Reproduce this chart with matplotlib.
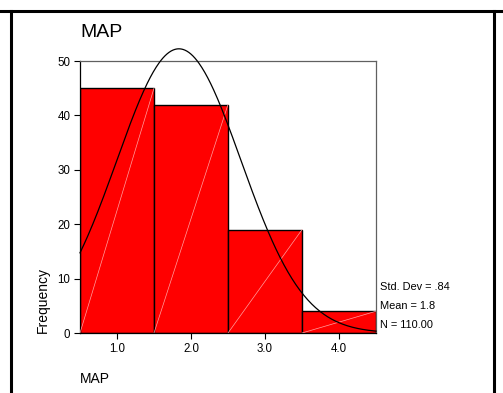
import numpy as np
import matplotlib
matplotlib.use("Agg")
import matplotlib.pyplot as plt
from matplotlib.lines import Line2D

plt.rcParams['font.family'] = ['Liberation Sans', 'DejaVu Sans']

# Data
categories = [1.0, 2.0, 3.0, 4.0]
frequencies = [45, 42, 19, 4]
tick_labels = ["1.0", "2.0", "3.0", "4.0"]
y_ticks = [0, 10, 20, 30, 40, 50]
std_dev = 0.84
mean = 1.8
n_total = 110.00

W, H = 503, 393
fig = plt.figure(figsize=(W / 100, H / 100), dpi=100)

# axes position in pixels: left 80, right 376, top 61, bottom 333
l, r, t, b = 80, 376, 61, 333
ax = fig.add_axes([l / W, 1 - b / H, (r - l) / W, (b - t) / H])

ax.bar(categories, frequencies, width=1.0, color='#ff0000', edgecolor='black', linewidth=1.0, zorder=2)
# faint diagonal lines inside the bars
for c, f in zip(categories, frequencies):
    ax.plot([c - 0.5, c + 0.5], [0, f], color='#ffa0a0', linewidth=0.5, zorder=3)

# fitted normal curve (computed from the stats)
mu = np.average(categories, weights=frequencies)
xs = np.linspace(0.5, 4.5, 300)
ys = n_total * 1.0 / (std_dev * np.sqrt(2 * np.pi)) * np.exp(-0.5 * ((xs - mu) / std_dev) ** 2)
ax.plot(xs, ys, color='black', linewidth=0.9, zorder=4, clip_on=False)

ax.set_xlim(0.5, 4.5)
ax.set_ylim(0, 50)
ax.set_xticks(categories)
ax.set_xticklabels(tick_labels, fontsize=8.3)
ax.set_yticks(y_ticks)
ax.set_yticklabels([str(v) for v in y_ticks], fontsize=8.3)
ax.tick_params(direction='out', length=4, width=0.8, pad=3)
for s in ['top', 'right']:
    ax.spines[s].set_color('#606060')
    ax.spines[s].set_linewidth(0.9)
for s in ['left', 'bottom']:
    ax.spines[s].set_color('black')
    ax.spines[s].set_linewidth(0.9)

fig.text(43 / W, 1 - 333 / H, "Frequency", fontsize=10, rotation=90, ha='center', va='bottom')

fig.text(80 / W, 1 - 37 / H, "MAP", fontsize=14, ha='left', va='baseline')
fig.text(80 / W, 1 - 383 / H, "MAP", fontsize=10, ha='left', va='baseline')

fig.text(380 / W, 1 - 287 / H, "Std. Dev = .84", fontsize=7.9, ha='left', va='center')
fig.text(380 / W, 1 - 306 / H, "Mean = 1.8", fontsize=7.9, ha='left', va='center')
fig.text(380 / W, 1 - 325 / H, "N = 110.00", fontsize=7.9, ha='left', va='center')

# outer frame lines
fig.add_artist(Line2D([0, 1], [1 - 10.5 / H, 1 - 10.5 / H], color='black', linewidth=2.2, transform=fig.transFigure))
fig.add_artist(Line2D([11 / W, 11 / W], [0, 1 - 10.5 / H], color='black', linewidth=2.2, transform=fig.transFigure))
fig.add_artist(Line2D([494 / W, 494 / W], [0, 1 - 10.5 / H], color='black', linewidth=2.2, transform=fig.transFigure))

fig.savefig("out.png", dpi=100)
